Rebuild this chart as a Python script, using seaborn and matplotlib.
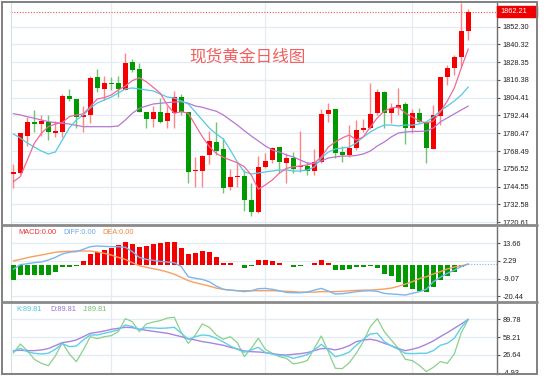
import numpy as np
import pandas as pd
import matplotlib
matplotlib.use("Agg")
import matplotlib.pyplot as plt
import matplotlib.transforms as mtransforms
from matplotlib.patches import Rectangle
from matplotlib.lines import Line2D
import seaborn as sns

# daily candles
opens = [1752.8, 1753.5, 1778.8, 1788.3, 1786.9, 1787.9, 1780.8, 1781.1, 1805.8, 1803.4,
         1791.6, 1792.8, 1818.6, 1810.1, 1814.6, 1814.1, 1809.6, 1828.5, 1823.8, 1795.0,
         1789.9, 1795.0, 1789.0, 1794.3, 1804.7, 1794.6, 1755.0, 1755.0, 1765.6, 1774.6,
         1769.7, 1744.4, 1751.0, 1751.7, 1735.5, 1727.6, 1757.9, 1762.4, 1771.0, 1760.6,
         1763.6, 1757.7, 1758.4, 1755.0, 1761.3, 1793.3, 1796.6, 1768.0, 1765.8, 1770.3,
         1782.7, 1783.8, 1793.9, 1808.5, 1793.9, 1797.7, 1800.0, 1783.8, 1793.9, 1788.3,
         1769.9, 1792.1, 1818.6, 1824.3, 1832.1, 1849.6]
highs = [1759.5, 1780.6, 1791.6, 1796.2, 1792.8, 1792.8, 1789.0, 1806.7, 1810.1, 1803.4,
         1798.8, 1819.1, 1823.8, 1819.3, 1818.2, 1819.1, 1834.4, 1830.3, 1827.6, 1795.0,
         1798.8, 1804.0, 1798.8, 1809.2, 1806.9, 1794.6, 1764.7, 1765.8, 1782.2, 1787.9,
         1777.3, 1756.4, 1761.3, 1755.7, 1746.7, 1765.3, 1767.0, 1771.4, 1771.4, 1767.4,
         1768.0, 1782.0, 1761.3, 1769.9, 1796.6, 1800.7, 1796.6, 1771.9, 1786.0, 1789.4,
         1790.1, 1814.1, 1810.3, 1809.0, 1800.7, 1810.8, 1801.7, 1796.6, 1797.3, 1788.3,
         1799.5, 1818.6, 1826.5, 1833.2, 1868.5, 1864.0]
lows = [1743.4, 1753.3, 1772.1, 1781.5, 1778.6, 1775.9, 1778.1, 1778.1, 1802.4, 1783.8,
        1781.1, 1787.2, 1808.5, 1802.9, 1809.6, 1805.1, 1809.6, 1822.0, 1794.6, 1783.8,
        1784.9, 1787.2, 1783.8, 1783.8, 1792.8, 1746.7, 1744.4, 1744.0, 1759.5, 1765.8,
        1740.0, 1742.2, 1744.4, 1728.1, 1724.9, 1726.5, 1756.9, 1760.2, 1753.5, 1747.1,
        1753.5, 1754.6, 1752.3, 1752.3, 1760.2, 1788.3, 1763.8, 1761.3, 1764.7, 1769.2,
        1781.5, 1783.3, 1792.8, 1783.8, 1787.2, 1792.8, 1773.2, 1780.4, 1787.6, 1760.2,
        1769.9, 1786.0, 1813.0, 1819.7, 1825.3, 1843.3]
closes = [1754.2, 1780.4, 1787.9, 1786.7, 1788.5, 1781.1, 1782.0, 1805.8, 1803.4, 1791.6,
          1793.0, 1817.9, 1810.8, 1814.1, 1813.7, 1810.1, 1828.0, 1823.1, 1795.0, 1789.9,
          1795.0, 1788.3, 1793.9, 1804.7, 1794.6, 1754.6, 1755.7, 1765.1, 1775.5, 1768.7,
          1743.8, 1751.2, 1751.7, 1735.5, 1727.6, 1757.9, 1761.8, 1770.7, 1761.3, 1763.6,
          1756.4, 1758.4, 1755.2, 1760.9, 1793.5, 1796.2, 1767.2, 1765.8, 1770.3, 1782.7,
          1783.8, 1793.5, 1808.1, 1793.9, 1797.3, 1799.5, 1783.8, 1793.9, 1788.3, 1770.7,
          1792.8, 1818.6, 1824.3, 1832.1, 1849.6, 1862.21]

# moving averages as drawn
ma5 = [1747.8, 1751.2, 1762.4, 1773.7, 1780.4, 1784.9, 1786.7, 1787.6, 1791.7, 1792.8,
       1793.5, 1798.4, 1803.6, 1804.5, 1806.3, 1809.6, 1812.3, 1815.9, 1817.9, 1815.2,
       1811.4, 1807.4, 1799.5, 1793.9, 1795.0, 1793.9, 1786.0, 1778.2, 1771.4, 1766.9,
       1764.2, 1762.4, 1760.6, 1757.9, 1752.3, 1742.7, 1745.6, 1749.0, 1753.5, 1756.8,
       1757.9, 1758.4, 1759.1, 1760.4, 1764.5, 1771.2, 1774.6, 1777.3, 1779.3, 1775.9,
       1778.0, 1784.7, 1790.8, 1795.5, 1797.5, 1798.2, 1794.1, 1791.4, 1788.7, 1787.4,
       1788.7, 1794.8, 1802.2, 1811.0, 1824.5, 1837.3]
ma10 = [1780.0, 1777.3, 1773.9, 1771.2, 1768.5, 1766.5, 1767.8, 1775.9, 1784.0, 1789.4,
        1792.8, 1797.5, 1800.9, 1802.9, 1804.9, 1807.6, 1810.3, 1811.0, 1810.3, 1809.6,
        1809.0, 1806.9, 1804.9, 1804.2, 1802.2, 1800.2, 1794.8, 1789.4, 1784.0, 1780.0,
        1776.6, 1769.2, 1761.1, 1754.4, 1753.0, 1753.7, 1754.4, 1755.0, 1755.7, 1755.7,
        1755.0, 1755.0, 1755.7, 1757.7, 1763.8, 1767.8, 1769.9, 1770.5, 1771.2, 1773.9,
        1778.0, 1781.3, 1784.0, 1786.0, 1786.0, 1785.4, 1786.0, 1786.0, 1786.7, 1788.1,
        1791.4, 1795.5, 1798.8, 1802.2, 1806.3, 1811.7]
ma20 = [1793.7, 1792.8, 1791.6, 1790.6, 1789.4, 1788.3, 1787.6, 1787.2, 1786.7, 1785.8,
        1784.9, 1784.9, 1784.9, 1784.9, 1784.9, 1785.4, 1789.4, 1793.9, 1797.3, 1798.8,
        1800.2, 1800.7, 1801.1, 1801.5, 1801.7, 1800.7, 1798.8, 1798.0, 1796.6, 1795.3,
        1792.8, 1789.4, 1786.0, 1782.2, 1778.6, 1775.3, 1771.9, 1769.2, 1767.8, 1765.8,
        1764.5, 1762.4, 1760.4, 1760.1, 1761.8, 1763.8, 1764.5, 1765.1, 1765.1, 1765.5,
        1766.5, 1768.5, 1771.9, 1774.6, 1778.0, 1780.6, 1781.3, 1781.7, 1781.7, 1782.0,
        1784.0, 1788.1, 1790.8, 1793.5, 1796.2, 1798.8]

# MACD panel
macd_hist = [-10.3, -6.7, -6.5, -6.7, -6.7, -6.5, -4.9, -1.3, -1.3, -1.1,
             2.2, 6.5, 8.0, 9.5, 10.8, 12.7, 14.8, 13.3, 11.0, 11.8,
             13.3, 14.0, 14.8, 14.6, 10.8, 6.5, 7.5, 8.4, 8.0, 4.7,
             1.1, 1.1, -0.4, -2.2, -1.1, 2.6, 2.6, 2.0, 0.9, -0.6,
             -1.3, -1.1, -0.6, 1.1, 3.2, 1.1, -3.4, -3.4, -2.6, -1.3,
             -1.3, -1.1, -2.4, -6.0, -7.7, -11.0, -14.2, -15.7, -17.2, -17.9,
             -14.6, -10.3, -7.5, -4.9, -1.7, 0.0]
diff = [-3.1, -0.1, 0.5, 1.2, 1.6, 2.9, 4.6, 6.8, 7.9, 8.3,
        9.8, 11.5, 11.9, 11.7, 11.5, 11.5, 11.1, 8.3, 4.6, 3.3,
        2.7, 2.0, 1.6, 1.2, -1.4, -7.9, -8.9, -9.6, -11.1, -13.9,
        -16.0, -16.5, -16.9, -17.5, -16.9, -15.6, -15.4, -16.0, -16.9, -18.0,
        -18.2, -18.2, -17.8, -16.5, -15.4, -17.1, -19.0, -18.8, -18.2, -17.5,
        -17.1, -16.9, -17.3, -18.6, -19.0, -19.3, -19.7, -18.6, -17.5, -16.0,
        -11.1, -8.3, -5.7, -3.6, -1.4, 0.3]
dea = [2.3, 3.3, 4.4, 5.3, 6.1, 7.0, 7.9, 8.3, 8.5, 8.7,
       8.7, 8.7, 8.1, 7.2, 6.1, 4.6, 3.3, 1.2, -0.8, -1.8,
       -2.7, -3.6, -4.8, -6.3, -8.3, -10.4, -11.7, -12.8, -13.9, -15.2,
       -16.0, -16.5, -16.9, -16.9, -16.9, -16.9, -16.9, -16.9, -17.1, -17.3,
       -17.5, -17.8, -17.8, -17.8, -17.5, -17.5, -17.5, -17.3, -16.9, -16.7,
       -16.5, -16.5, -16.2, -15.8, -15.2, -14.1, -12.6, -11.1, -9.1, -7.9,
       -6.1, -4.6, -2.9, -1.6, -0.8, 0.3]

# KDJ panel
k_vals = [32.4, 38.4, 32.4, 29.5, 28.3, 29.5, 36.6, 46.6, 41.3, 42.5,
          53.1, 62.0, 62.0, 65.0, 67.9, 70.9, 79.7, 76.8, 72.0, 75.0,
          74.4, 73.8, 74.4, 75.6, 65.0, 54.3, 59.0, 62.0, 60.8, 56.1,
          49.6, 42.5, 36.6, 31.3, 35.4, 40.1, 30.7, 28.3, 25.3, 24.7,
          20.6, 23.5, 27.1, 35.4, 45.4, 35.4, 23.5, 26.5, 31.8, 43.7,
          54.3, 63.8, 65.0, 50.2, 42.5, 36.6, 29.5, 28.9, 29.5, 29.5,
          34.2, 43.7, 47.2, 56.1, 75.6, 89.81]
d_vals = [34.2, 34.8, 34.2, 34.2, 35.4, 37.8, 43.1, 48.4, 50.2, 53.1,
          59.0, 65.0, 66.7, 69.1, 72.0, 73.8, 75.6, 75.0, 72.0, 70.3,
          68.5, 66.7, 65.0, 62.0, 59.0, 55.5, 53.1, 50.2, 48.4, 46.0,
          43.7, 40.1, 37.2, 33.6, 32.4, 31.8, 30.7, 28.9, 27.1, 26.5,
          27.7, 28.9, 30.7, 34.2, 37.8, 37.8, 35.4, 38.4, 43.1, 50.2,
          53.1, 54.3, 52.0, 47.2, 43.1, 37.8, 34.2, 36.6, 40.1, 45.4,
          51.4, 59.0, 66.1, 73.8, 81.5, 89.81]
j_vals = [29.5, 46.0, 34.2, 18.8, 11.7, 7.6, 24.7, 48.4, 28.3, 14.7,
          35.4, 59.0, 55.5, 59.0, 60.8, 67.9, 91.0, 85.6, 67.9, 81.5,
          85.0, 87.4, 92.1, 93.3, 66.1, 47.2, 62.0, 81.5, 75.6, 62.0,
          54.3, 59.0, 48.4, 23.5, 38.4, 56.1, 36.6, 29.5, 23.5, 20.6,
          10.6, 12.9, 16.5, 38.4, 60.2, 32.4, 2.9, 2.3, 12.9, 29.5,
          50.2, 76.8, 91.0, 67.9, 53.1, 38.4, 18.8, 16.5, 8.2, -3.0,
          4.6, 14.7, 11.7, 28.3, 66.1, 89.81]

price_ticks = [1720.61, 1732.58, 1744.55, 1756.52, 1768.49, 1780.47, 1792.44,
               1804.41, 1816.38, 1828.35, 1840.32, 1852.30]
macd_ticks = [13.66, 2.29, -9.07, -20.44]
kdj_ticks = [89.78, 58.21, 26.64, -4.93]
month_marks = [14, 36, 57]

RED, GREEN = '#f50000', '#009a00'
RED_WICK, GREEN_WICK = '#ff8585', '#74c474'
GRID = '#e3ebf3'

sns.set_style("white")
plt.rcParams['font.family'] = ['Liberation Sans', 'DejaVu Sans']

df = pd.DataFrame({'open': opens, 'high': highs, 'low': lows, 'close': closes,
                   'ma5': ma5, 'ma10': ma10, 'ma20': ma20,
                   'macd': macd_hist, 'diff': diff, 'dea': dea,
                   'k': k_vals, 'd': d_vals, 'j': j_vals})
df['idx'] = np.arange(len(df))
up = (df['close'] >= df['open']).to_numpy()

W, H = 550, 376
fig = plt.figure(figsize=(W / 100, H / 100), dpi=100)


def box(x0, y0, x1, y1):
    return [x0 / W, 1 - y1 / H, (x1 - x0) / W, (y1 - y0) / H]


ax1 = fig.add_axes(box(11, 2.5, 497, 224))
ax2 = fig.add_axes(box(11, 226.5, 497, 300.5))
ax3 = fig.add_axes(box(11, 303, 497, 373.5))

for ax, ticks, lim in [(ax1, price_ticks, (1719.3, 1868.6)),
                       (ax2, macd_ticks, (-23.2, 24.5)),
                       (ax3, kdj_ticks, (-6.35, 118.7))]:
    ax.set_xlim(-0.33, 69.1)
    ax.set_ylim(*lim)
    ax.yaxis.tick_right()
    ax.set_yticks(ticks, ['%.2f' % t for t in ticks])
    ax.set_xticks([])
    ax.tick_params(axis='y', length=2.5, width=0.8, color='#555555',
                   labelsize=5.3, labelcolor='#222222', pad=1.5)
    ax.grid(axis='y', color=GRID, lw=0.9, zorder=0)
    for m in month_marks:
        ax.axvline(m, color=GRID, lw=0.9, zorder=0)
    for s in ['top', 'bottom']:
        ax.spines[s].set_visible(False)
    ax.spines['left'].set_color('#d5dde5')
    ax.spines['left'].set_linewidth(0.8)
    ax.spines['right'].set_color('#6e6e6e')
    ax.spines['right'].set_linewidth(1.0)

# candles
ax1.vlines(df['idx'], df['low'], df['high'],
           colors=np.where(up, RED_WICK, GREEN_WICK).tolist(), lw=1, zorder=2)
body_lo = np.minimum(df['open'], df['close'])
body_h = np.maximum((df['close'] - df['open']).abs(), 0.9)
ax1.bar(df['idx'], body_h, bottom=body_lo, width=0.74,
        color=np.where(up, RED, GREEN).tolist(), linewidth=0, zorder=3)

sns.lineplot(data=df, x='idx', y='ma20', ax=ax1, color='#b677d3', lw=0.9, zorder=4)
sns.lineplot(data=df, x='idx', y='ma10', ax=ax1, color='#55c9e6', lw=0.9, zorder=4)
sns.lineplot(data=df, x='idx', y='ma5', ax=ax1, color='#ee6a98', lw=0.9, zorder=4)

last = closes[-1]
ax1.axhline(last, color='#f05050', lw=0.8, ls=(0, (1, 1.5)), zorder=1)
blend = mtransforms.blended_transform_factory(ax1.transAxes, ax1.transData)
ax1.add_patch(Rectangle((1.0, last - 3.7), 40 / 486, 7.4, transform=blend,
                        color='#ee0000', clip_on=False, zorder=5))
ax1.text(1.0 + 3.5 / 486, last, '%.2f' % last, transform=blend, color='white',
         fontsize=5.3, va='center', ha='left', clip_on=False, zorder=6)

fig.text(248 / W, 1 - 57.5 / H, '现货黄金日线图', color='#f06060', fontsize=12,
         ha='center', va='center', family=['Noto Sans CJK SC', 'DejaVu Sans'])

# MACD
ax2.bar(df['idx'], df['macd'], width=0.74,
        color=np.where(df['macd'] >= 0, RED, GREEN).tolist(), linewidth=0, zorder=3)
sns.lineplot(data=df, x='idx', y='dea', ax=ax2, color='#f7a062', lw=1.0, zorder=4)
sns.lineplot(data=df, x='idx', y='diff', ax=ax2, color='#7cb5ee', lw=1.0, zorder=4)
ax2.hlines(diff[-1], len(df) - 1, 69.1, colors='#7cb5ee', lw=0.8, ls=(0, (1, 1.5)))

# KDJ
sns.lineplot(data=df, x='idx', y='j', ax=ax3, color='#8bd08b', lw=0.9, zorder=3)
sns.lineplot(data=df, x='idx', y='d', ax=ax3, color='#a985dd', lw=1.0, zorder=4)
sns.lineplot(data=df, x='idx', y='k', ax=ax3, color='#5fd0e8', lw=1.0, zorder=5)

for ax in (ax1, ax2, ax3):
    ax.set_xlabel('')
    ax.set_ylabel('')

for x, s, c in [(18.3, 'MACD:0.00', '#f03030'), (63.3, 'DIFF:0.00', '#6aaae8'),
                (102.3, 'DEA:0.00', '#f08a40')]:
    fig.text(x / W, 1 - 232.7 / H, s, color=c, fontsize=5.3, va='center')
for x, s, c in [(16.7, 'K:89.81', '#4cc4e0'), (50, 'D:89.81', '#9a72d6'),
                (83.3, 'J:89.81', '#6cbf6c')]:
    fig.text(x / W, 1 - 309.3 / H, s, color=c, fontsize=5.3, va='center')

# frame and panel separators
fig.add_artist(Rectangle((1.7 / W, 1 - 373.7 / H), 535 / W, 372 / H, fill=False,
                         edgecolor='#808080', lw=1.4, transform=fig.transFigure))
for y in (225.3, 301.8):
    fig.add_artist(Line2D([1.7 / W, 536.7 / W], [1 - y / H] * 2, color='#8a8a8a',
                          lw=2, transform=fig.transFigure))

fig.savefig('out.png', dpi=100)
